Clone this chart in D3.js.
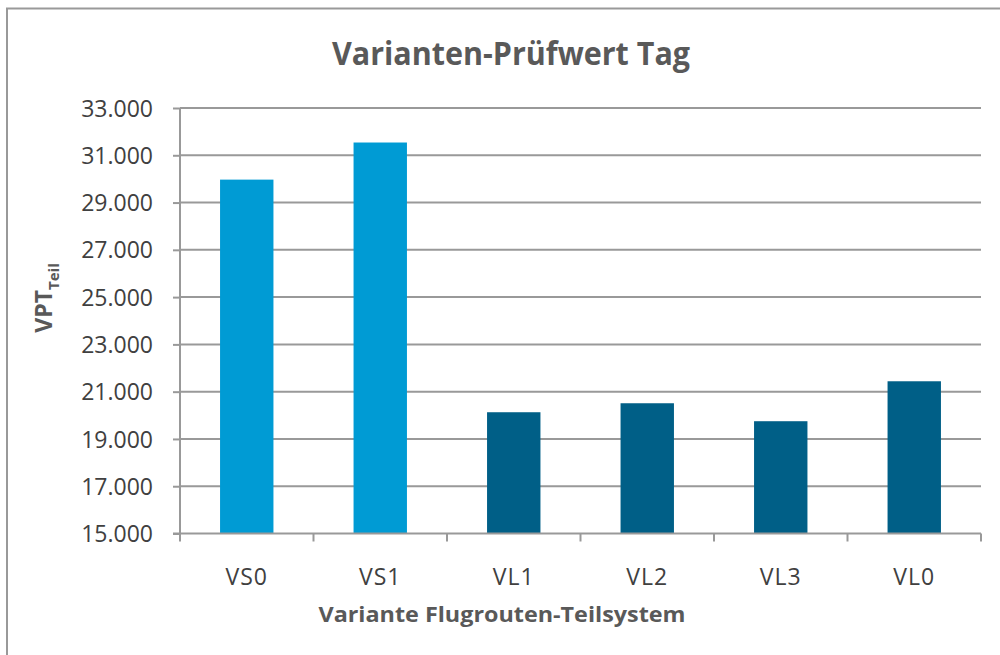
<!DOCTYPE html>
<html>
<head>
<meta charset="utf-8">
<script src="https://cdn.jsdelivr.net/npm/d3@7"></script>
<style>
  html, body { margin: 0; padding: 0; background: #fff; }
  svg { display: block; }
  text { font-family: "Open Sans", "Liberation Sans", sans-serif; }
</style>
</head>
<body>
<svg id="chart" width="1000" height="655"></svg>
<script>
// Variant labels and their test values (VPT, Teil)
const categories = ["VS0", "VS1", "VL1", "VL2", "VL3", "VL0"];
const values = [29970, 31540, 20130, 20510, 19750, 21440];
const groups = ["S", "S", "L", "L", "L", "L"];
const yTicks = [15000, 17000, 19000, 21000, 23000, 25000, 27000, 29000, 31000, 33000];

const titleText = "Varianten-Prüfwert Tag";
const xTitleText = "Variante Flugrouten-Teilsystem";

const svg = d3.select("#chart");
const W = 1000, H = 655;
const plot = { left: 180, right: 981, top: 108, bottom: 533.5 };

const gridColor = "#999999";
const textColor = "#404040";
const titleColor = "#595959";
const colorScale = d3.scaleOrdinal().domain(["S", "L"]).range(["#009bd4", "#005f87"]);

// outer frame
svg.append("rect")
  .attr("x", 7).attr("y", 8.5)
  .attr("width", W + 10).attr("height", H + 10)
  .attr("fill", "#fff")
  .attr("stroke", "#999999").attr("stroke-width", 2);

const x = d3.scaleBand().domain(categories).range([plot.left, plot.right]).paddingInner(0.6).paddingOuter(0.3);
const xOuter = d3.scaleBand().domain(categories).range([plot.left, plot.right]);
const y = d3.scaleLinear().domain([15000, 33000]).range([plot.bottom, plot.top]);

const fmt = d => d3.format(",")(d).replace(/,/g, ".");

// horizontal gridlines
svg.append("g")
  .selectAll("line")
  .data(yTicks.slice(1))
  .join("line")
  .attr("x1", plot.left).attr("x2", plot.right)
  .attr("y1", d => y(d)).attr("y2", d => y(d))
  .attr("stroke", gridColor).attr("stroke-width", 2);

// y axis
const yAxis = svg.append("g")
  .attr("transform", `translate(${plot.left},0)`)
  .call(d3.axisLeft(y).tickValues(yTicks).tickFormat(fmt).tickSize(7).tickPadding(20));
yAxis.select(".domain").attr("stroke", gridColor).attr("stroke-width", 2).attr("d", `M0,${plot.top}V${plot.bottom}`);
yAxis.selectAll(".tick line").attr("stroke", gridColor).attr("stroke-width", 2);
yAxis.selectAll(".tick text")
  .attr("fill", textColor).attr("font-size", 23).attr("dy", "0.35em");

// bars
svg.append("g")
  .selectAll("rect")
  .data(categories.map((c, i) => ({ c, v: values[i], g: groups[i] })))
  .join("rect")
  .attr("x", d => x(d.c))
  .attr("width", x.bandwidth())
  .attr("y", d => y(d.v))
  .attr("height", d => y(15000) - y(d.v))
  .attr("fill", d => colorScale(d.g));

// x axis with ticks between categories
const xAxisG = svg.append("g").attr("transform", `translate(0,${plot.bottom})`);
xAxisG.append("line")
  .attr("x1", plot.left - 7).attr("x2", plot.right)
  .attr("stroke", gridColor).attr("stroke-width", 2);
const boundaries = categories.map(c => xOuter(c)).concat([plot.right]);
xAxisG.selectAll("line.tk")
  .data(boundaries)
  .join("line")
  .attr("class", "tk")
  .attr("x1", d => d).attr("x2", d => d)
  .attr("y1", 0).attr("y2", 8)
  .attr("stroke", gridColor).attr("stroke-width", 2);
xAxisG.selectAll("text")
  .data(categories)
  .join("text")
  .attr("x", d => xOuter(d) + xOuter.bandwidth() / 2)
  .attr("y", 51)
  .attr("text-anchor", "middle")
  .attr("fill", textColor)
  .attr("font-size", 23)
  .attr("letter-spacing", 1)
  .text(d => d);

// chart title
svg.append("text")
  .attr("x", 511).attr("y", 65)
  .attr("text-anchor", "middle")
  .attr("fill", titleColor)
  .attr("font-size", 32).attr("font-weight", "bold")
  .attr("textLength", 358).attr("lengthAdjust", "spacingAndGlyphs")
  .text(titleText);

// x axis title
svg.append("text")
  .attr("x", 502).attr("y", 622)
  .attr("text-anchor", "middle")
  .attr("fill", titleColor)
  .attr("font-size", 22).attr("font-weight", "bold")
  .attr("textLength", 367).attr("lengthAdjust", "spacingAndGlyphs")
  .text(xTitleText);

// y axis title with subscript
const yTitle = svg.append("text")
  .attr("transform", "translate(52,298) rotate(-90)")
  .attr("text-anchor", "middle")
  .attr("fill", titleColor)
  .attr("font-weight", "bold");
yTitle.append("tspan").attr("font-size", 23).text("VPT");
yTitle.append("tspan").attr("font-size", 15).attr("dy", 7).text("Teil");
</script>
</body>
</html>
